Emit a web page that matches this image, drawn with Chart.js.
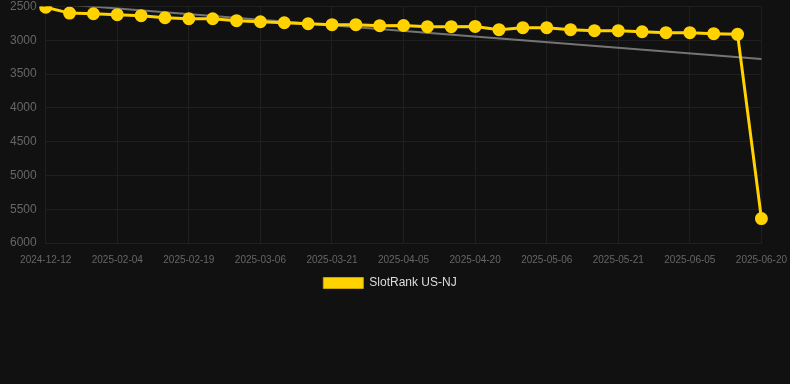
<!DOCTYPE html>
<html>
<head>
<meta charset="utf-8">
<script src="https://cdn.jsdelivr.net/npm/chart.js@4"></script>
<style>
  html, body { margin: 0; padding: 0; background: #111111; }
  #wrap { width: 790px; height: 299px; position: relative; }
</style>
</head>
<body>
<div id="wrap"><canvas id="rankChart"></canvas></div>
<script>
// dates on the x axis (one per point)
var dates = [
    '2024-12-12', '2025-01-25', '2025-01-30', '2025-02-04', '2025-02-09', '2025-02-14',
    '2025-02-19', '2025-02-24', '2025-03-01', '2025-03-06', '2025-03-11', '2025-03-16',
    '2025-03-21', '2025-03-26', '2025-03-31', '2025-04-05', '2025-04-10', '2025-04-15',
    '2025-04-20', '2025-04-25', '2025-05-01', '2025-05-06', '2025-05-11', '2025-05-16',
    '2025-05-21', '2025-05-26', '2025-05-31', '2025-06-05', '2025-06-10', '2025-06-15',
    '2025-06-20'
];

// SlotRank US-NJ
var ranks = [
    2510, 2596, 2606, 2620, 2635, 2665, 2680, 2680, 2709, 2724, 2739, 2754,
    2768, 2768, 2783, 2780, 2797, 2797, 2793, 2842, 2812, 2812, 2842, 2857,
    2857, 2872, 2886, 2886, 2901, 2910, 5639
];

// trend line, only the two end values
var trendStart = 2445;
var trendEnd = 3275;

var trend = dates.map(function (d, i) {
    if (i === 0) return trendStart;
    if (i === dates.length - 1) return trendEnd;
    return null;
});

var font = 'Arial, "Liberation Sans", sans-serif';

var ctx = document.getElementById('rankChart');
new Chart(ctx, {
    type: 'line',
    data: {
        labels: dates,
        datasets: [{
            label: 'SlotRank US-NJ',
            data: ranks,
            borderColor: '#ffd200',
            backgroundColor: '#ffd200',
            borderWidth: 3,
            pointRadius: 5,
            pointHoverRadius: 6,
            tension: 0
        }, {
            label: 'trend',
            data: trend,
            borderColor: 'rgba(150,150,150,0.75)',
            borderWidth: 2,
            pointRadius: 0,
            spanGaps: true,
            tension: 0
        }]
    },
    options: {
        responsive: true,
        maintainAspectRatio: false,
        animation: false,
        layout: { autoPadding: false, padding: { left: 10, right: 20 } },
        plugins: {
            legend: {
                position: 'bottom',
                labels: {
                    color: '#dddddd',
                    font: { size: 12, family: font },
                    boxWidth: 40,
                    boxHeight: 11,
                    padding: 8,
                    filter: function (item) { return item.text !== 'trend'; },
                    generateLabels: function (chart) {
                        var items = Chart.defaults.plugins.legend.labels.generateLabels(chart);
                        items.forEach(function (it) {
                            it.lineWidth = 1;
                            it.strokeStyle = '#c9a400';
                        });
                        return items;
                    }
                }
            },
            tooltip: { enabled: false }
        },
        scales: {
            x: {
                grid: { color: '#1f1f1f', tickColor: 'rgba(0,0,0,0)' },
                border: { color: '#1f1f1f' },
                ticks: {
                    color: '#666666',
                    font: { size: 10, family: font },
                    maxRotation: 0,
                    autoSkip: true,
                    maxTicksLimit: 11
                }
            },
            y: {
                reverse: true,
                min: 2500,
                max: 6000,
                grid: { color: '#1f1f1f', tickLength: 9, tickColor: 'rgba(0,0,0,0)' },
                border: { color: '#1f1f1f' },
                ticks: {
                    stepSize: 500,
                    padding: 0,
                    color: '#666666',
                    font: { size: 12, family: font, lineHeight: 1.1 },
                    callback: function (v) { return String(v); }
                }
            }
        }
    }
});
</script>
</body>
</html>
